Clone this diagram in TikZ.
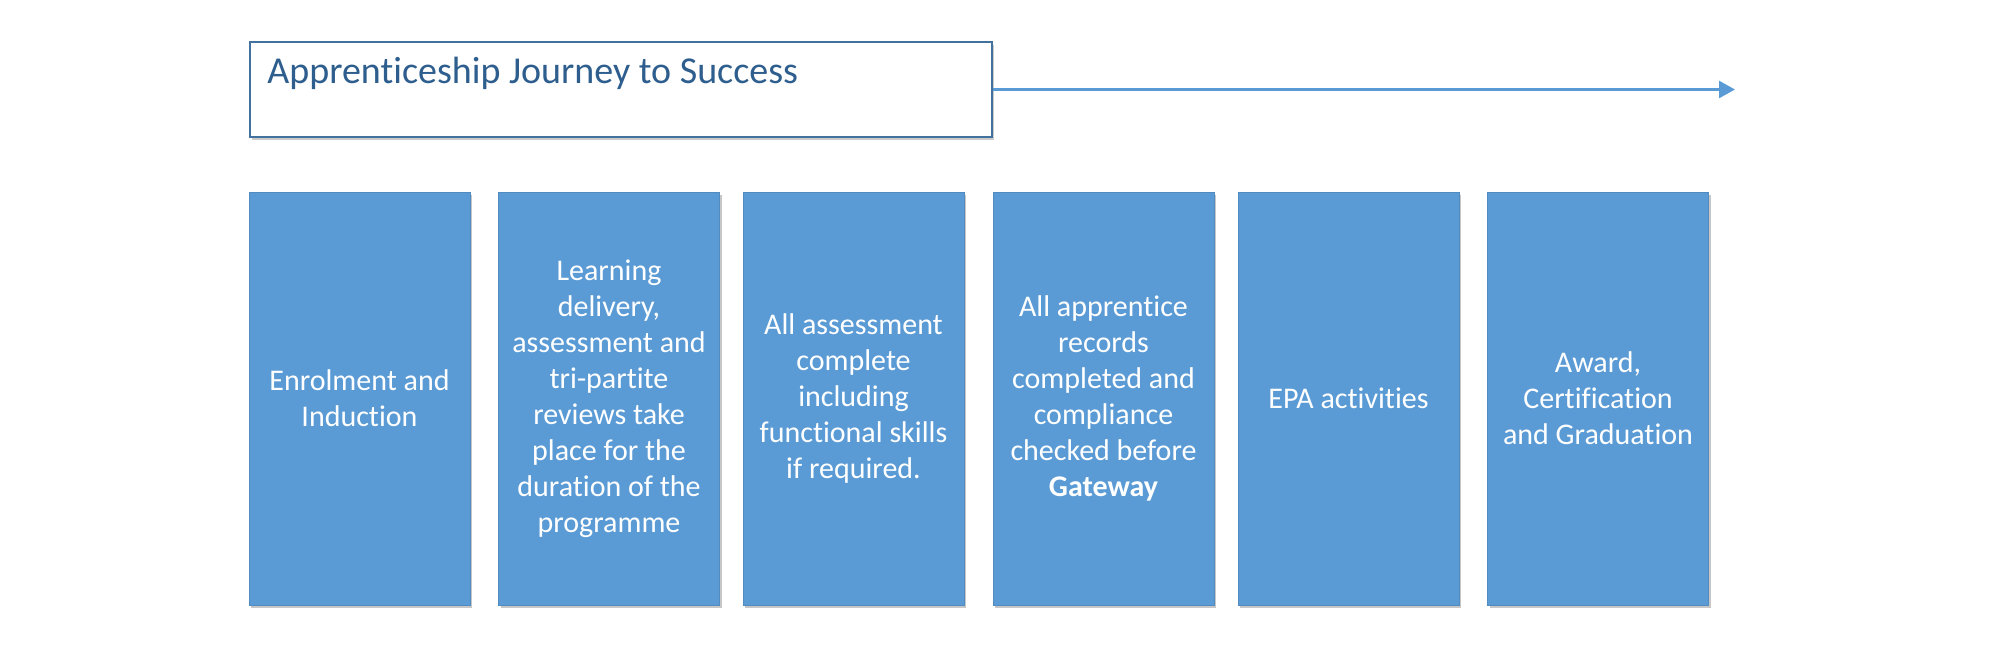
\documentclass[tikz,border=0pt]{standalone}
\usepackage{fontspec}
\setmainfont{Carlito}[RawFeature={-liga;-clig;-calt;-dlig;-rlig}]
\usetikzlibrary{arrows.meta,shadows}
\definecolor{boxblue}{HTML}{5B9BD5}
\definecolor{titleedge}{HTML}{41719C}
\definecolor{titletext}{HTML}{2E5E8E}
\tikzset{
  stagebox/.style={rectangle, fill=boxblue, draw=boxblue!90!black, line width=0.3pt,
    minimum width=110.5pt, minimum height=206.5pt, inner sep=0pt,
    align=center, text=white, font=\fontsize{15}{18}\selectfont,
    drop shadow={shadow xshift=1pt, shadow yshift=-1.6pt, opacity=0.22, fill=black}},
  titlebox/.style={rectangle, draw=titleedge, fill=white, line width=0.8pt,
    minimum width=371pt, minimum height=47.5pt, inner sep=0pt,
    drop shadow={shadow xshift=0.8pt, shadow yshift=-1.5pt, opacity=0.2, fill=black}},
  titlelabel/.style={anchor=base west, inner sep=0pt, text=titletext, font=\fontsize{19}{22}\selectfont},
  flowarrow/.style={draw=boxblue, line width=1.3pt, -{Triangle[length=8pt,width=8.5pt]}}
}
\begin{document}
\begin{tikzpicture}[x=0.5pt,y=-0.5pt]
\useasboundingbox (0,0) rectangle (2000,653);
\node[titlebox] (title) at (621,89.5) {};
\node[titlelabel] (titletxt) at (267,83) {Apprenticeship Journey to Success};
\coordinate (arrowend) at (1735,89.5);
\draw[flowarrow] (title.east) -- (arrowend);

\node[stagebox] (s1) at (359.5,398.5) {Enrolment and\\Induction};
\node[stagebox] (s2) at (609,398.5) {Learning\\delivery,\\assessment and\\tri-partite\\reviews take\\place for the\\duration of the\\programme};
\node[stagebox] (s3) at (853.5,398.5) {All assessment\\complete\\including\\functional skills\\if required.};
\node[stagebox] (s4) at (1103.5,398.5) {All apprentice\\records\\completed and\\compliance\\checked before\\\textbf{Gateway}};
\node[stagebox] (s5) at (1348.5,398.5) {EPA activities};
\node[stagebox] (s6) at (1598,398.5) {Award,\\Certification\\and Graduation};
\end{tikzpicture}
\end{document}
